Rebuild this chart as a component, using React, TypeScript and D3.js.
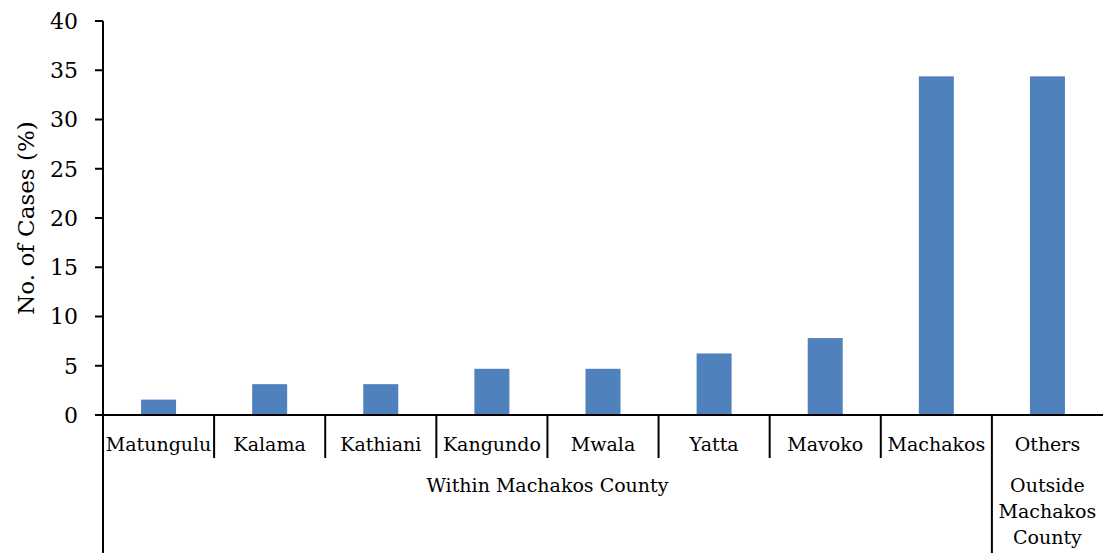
import * as d3 from "d3";
import React, { useRef, useEffect } from "react";

// districts, in the order they appear on the axis
const categories = [
  "Matungulu",
  "Kalama",
  "Kathiani",
  "Kangundo",
  "Mwala",
  "Yatta",
  "Mavoko",
  "Machakos",
  "Others",
];
const cases = [1.56, 3.13, 3.13, 4.69, 4.69, 6.25, 7.81, 34.38, 34.38];
const yTicks = [0, 5, 10, 15, 20, 25, 30, 35, 40];
// outer grouping of the categories
const groups = [
  { lines: ["Within Machakos County"], from: 0, to: 7 },
  { lines: ["Outside", "Machakos", "County"], from: 8, to: 8 },
];

const W = 1103;
const H = 553;
const FONT = "'DejaVu Serif', serif";

const App = () => {
  const ref = useRef<SVGSVGElement>(null);

  useEffect(() => {
    document.body.style.margin = "0";
    const svg = d3.select(ref.current);
    svg.selectAll("*").remove();

    const left = 103;
    const right = 1103;
    const top = 21;
    const bottom = 415;

    const x = d3.scaleBand().domain(categories).range([left, right]).paddingInner(0).paddingOuter(0);
    const y = d3.scaleLinear().domain([0, 40]).range([bottom, top]);
    const barW = x.bandwidth() * 0.315;

    // bars
    svg
      .append("g")
      .selectAll("rect")
      .data(categories)
      .join("rect")
      .attr("x", (d) => x(d)! + x.bandwidth() / 2 - barW / 2)
      .attr("y", (d, i) => y(cases[i]))
      .attr("width", barW)
      .attr("height", (d, i) => bottom - y(cases[i]))
      .attr("fill", "#4F81BD");

    // y axis
    const ya = svg.append("g");
    ya.append("line")
      .attr("x1", left).attr("x2", left)
      .attr("y1", top).attr("y2", H)
      .attr("stroke", "#000").attr("stroke-width", 2);
    ya.selectAll("line.tick")
      .data(yTicks)
      .join("line")
      .attr("class", "tick")
      .attr("x1", left - 8).attr("x2", left)
      .attr("y1", (d) => y(d)).attr("y2", (d) => y(d))
      .attr("stroke", "#000").attr("stroke-width", 2);
    ya.selectAll("text")
      .data(yTicks)
      .join("text")
      .attr("x", 78)
      .attr("y", (d) => y(d))
      .attr("dy", "0.36em")
      .attr("text-anchor", "end")
      .attr("font-family", FONT)
      .attr("font-size", 22)
      .text((d) => d);

    svg.append("text")
      .attr("transform", `translate(34,${(top + bottom) / 2}) rotate(-90)`)
      .attr("text-anchor", "middle")
      .attr("font-family", FONT)
      .attr("font-size", 23)
      .text("No. of Cases (%)");

    // x axis, two levels
    const xa = svg.append("g");
    xa.append("line")
      .attr("x1", left - 8).attr("x2", right)
      .attr("y1", bottom).attr("y2", bottom)
      .attr("stroke", "#000").attr("stroke-width", 2);

    const groupEdges = new Set(groups.map((g) => g.from));
    categories.slice(1).forEach((c) => {
      const i = categories.indexOf(c);
      const xx = x(c)!;
      xa.append("line")
        .attr("x1", xx).attr("x2", xx)
        .attr("y1", bottom).attr("y2", groupEdges.has(i) ? H : 458)
        .attr("stroke", "#000").attr("stroke-width", 2);
    });

    xa.selectAll("text.cat")
      .data(categories)
      .join("text")
      .attr("class", "cat")
      .attr("x", (d) => x(d)! + x.bandwidth() / 2)
      .attr("y", 451)
      .attr("text-anchor", "middle")
      .attr("font-family", FONT)
      .attr("font-size", 19)
      .text((d) => d);

    groups.forEach((g) => {
      const cx = (x(categories[g.from])! + x(categories[g.to])! + x.bandwidth()) / 2;
      const t = xa.append("text")
        .attr("text-anchor", "middle")
        .attr("font-family", FONT)
        .attr("font-size", 19);
      g.lines.forEach((l, k) => {
        t.append("tspan").attr("x", cx).attr("y", 492 + k * 26).text(l);
      });
    });
  }, []);

  return (
    <div>
      <svg ref={ref} width={W} height={H} style={{ display: "block" }}></svg>
    </div>
  );
};

export default App;
